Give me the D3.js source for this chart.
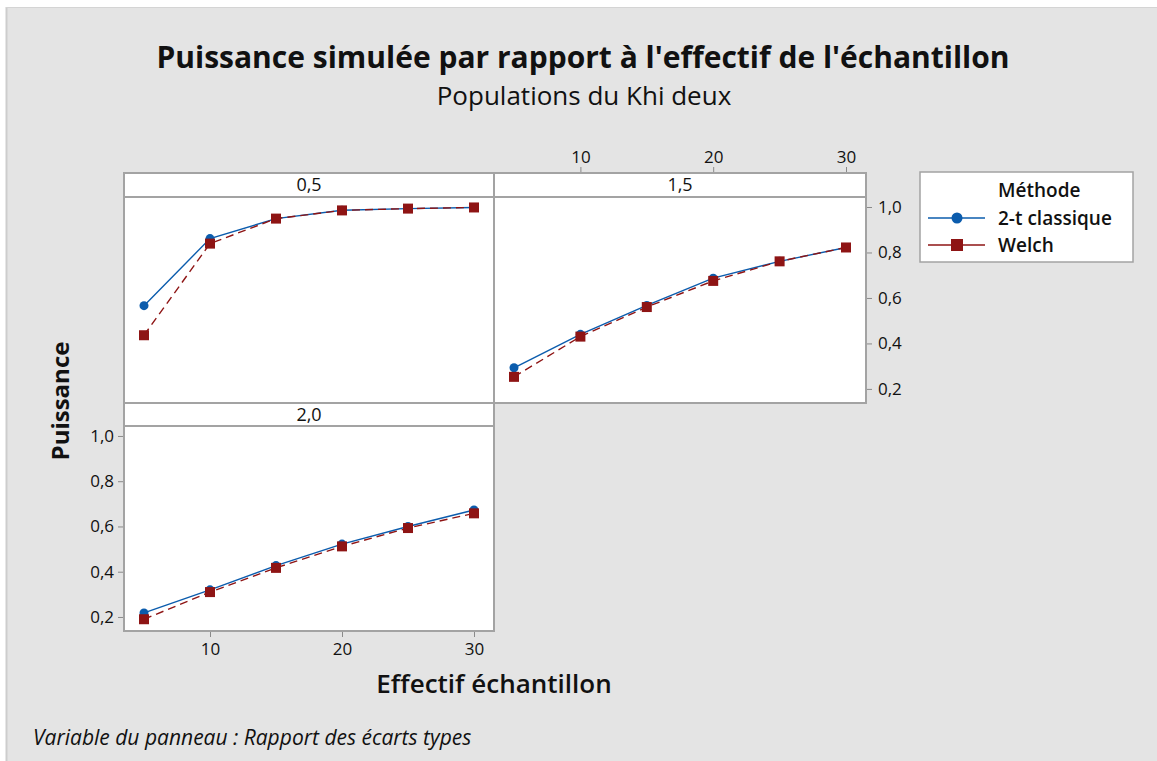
<!DOCTYPE html>
<html>
<head>
<meta charset="utf-8">
<script src="https://cdn.jsdelivr.net/npm/d3@7"></script>
<style>
  body { margin: 0; background: #fff; }
  text { font-family: "Open Sans", "Noto Sans", sans-serif; fill: #111; }
</style>
</head>
<body>
<div id="chart"></div>
<script>
// sample sizes (x values)
var sizes = [5, 10, 15, 20, 25, 30];
// panel variable: ratio of standard deviations
var panels = ["0,5", "1,5", "2,0"];
var methods = ["2-t classique", "Welch"];

// simulated power, one array per panel
var classic05 = [0.566, 0.861, 0.949, 0.986, 0.993, 0.998];
var welch05   = [0.436, 0.839, 0.949, 0.985, 0.993, 0.998];
var classic15 = [0.293, 0.440, 0.567, 0.687, 0.761, 0.822];
var welch15   = [0.253, 0.430, 0.560, 0.675, 0.761, 0.822];
var classic20 = [0.218, 0.320, 0.427, 0.522, 0.600, 0.673];
var welch20   = [0.190, 0.310, 0.417, 0.512, 0.593, 0.658];

var xTicks = [10, 20, 30];
var yTicks = [0.2, 0.4, 0.6, 0.8, 1.0];

var series = [
  { panel: 0, classic: classic05, welch: welch05 },
  { panel: 1, classic: classic15, welch: welch15 },
  { panel: 2, classic: classic20, welch: welch20 }
];

var width = 1157, height = 761;
var blue = "#0b5cad", red = "#8e1414", frame = "#a3a3a3";
var comma = d3.formatLocale({ decimal: ",", thousands: " ", grouping: [3], currency: ["", "€"] });
var fmtY = comma.format(".1f");

// panel geometry: columns and rows
var cols = [{ x0: 124, x1: 494 }, { x0: 494, x1: 866 }];
var rows = [{ s0: 173, p0: 197, p1: 403 }, { s0: 403, p0: 426, p1: 631 }];
var cells = [
  { col: 0, row: 0 },
  { col: 1, row: 0 },
  { col: 0, row: 1 }
];

var svg = d3.select("#chart").append("svg")
  .attr("width", width).attr("height", height);

svg.append("rect").attr("width", width).attr("height", height).attr("fill", "#fff");
svg.append("rect")
  .attr("x", 6).attr("y", 7).attr("width", width - 6).attr("height", height - 7)
  .attr("fill", "#e4e4e4");
svg.append("line").attr("x1", 6.5).attr("x2", 6.5).attr("y1", 7).attr("y2", height)
  .attr("stroke", "#cdcdcd").attr("stroke-width", 2);
svg.append("line").attr("x1", 6).attr("x2", width).attr("y1", 7.5).attr("y2", 7.5)
  .attr("stroke", "#d4d4d4").attr("stroke-width", 1);

// titles
svg.append("text").attr("x", 583).attr("y", 68).attr("text-anchor", "middle")
  .style("font-size", "30px").style("font-weight", 700)
  .text("Puissance simulée par rapport à l'effectif de l'échantillon");
svg.append("text").attr("x", 584).attr("y", 105).attr("text-anchor", "middle")
  .style("font-size", "26px").style("font-weight", 400)
  .text("Populations du Khi deux");

function xScale(c) {
  return d3.scaleLinear().domain([5, 30]).range([cols[c].x0 + 20, cols[c].x1 - 20]);
}
function yScale(r) {
  return d3.scaleLinear().domain([0.138, 1.044]).range([rows[r].p1, rows[r].p0]);
}

cells.forEach(function (cell, i) {
  var c = cols[cell.col], r = rows[cell.row];
  var g = svg.append("g");
  var x = xScale(cell.col), y = yScale(cell.row);

  // strip
  g.append("rect").attr("x", c.x0).attr("y", r.s0)
    .attr("width", c.x1 - c.x0).attr("height", r.p0 - r.s0)
    .attr("fill", "#fff").attr("stroke", frame).attr("stroke-width", 2);
  g.append("text").attr("x", (c.x0 + c.x1) / 2).attr("y", (r.s0 + r.p0) / 2 + 6)
    .attr("text-anchor", "middle").style("font-size", "18px").style("font-weight", 400)
    .text(panels[i]);

  // plot area
  g.append("rect").attr("x", c.x0).attr("y", r.p0)
    .attr("width", c.x1 - c.x0).attr("height", r.p1 - r.p0)
    .attr("fill", "#fff").attr("stroke", frame).attr("stroke-width", 2);

  var s = series[i];
  var pts = function (vals) { return sizes.map(function (d, k) { return [d, vals[k]]; }); };
  var line = d3.line().x(function (d) { return x(d[0]); }).y(function (d) { return y(d[1]); });

  g.append("path").attr("d", line(pts(s.classic)))
    .attr("fill", "none").attr("stroke", blue).attr("stroke-width", 1.4);
  g.selectAll(".dot").data(pts(s.classic)).enter().append("circle")
    .attr("cx", function (d) { return x(d[0]); })
    .attr("cy", function (d) { return y(d[1]); })
    .attr("r", 4.5).attr("fill", blue);

  g.append("path").attr("d", line(pts(s.welch)))
    .attr("fill", "none").attr("stroke", red).attr("stroke-width", 1.4)
    .attr("stroke-dasharray", "8,5");
  g.selectAll(".sq").data(pts(s.welch)).enter().append("rect")
    .attr("x", function (d) { return x(d[0]) - 5; })
    .attr("y", function (d) { return y(d[1]) - 5; })
    .attr("width", 10).attr("height", 10).attr("fill", red);
});

function styleAxis(sel) {
  sel.select(".domain").remove();
  sel.selectAll(".tick line").attr("stroke", "#8a8a8a");
  sel.selectAll(".tick text").style("font-size", "17px").style("font-weight", 400)
    .attr("fill", "#1a1a1a").style("font-family", "'Open Sans', sans-serif");
}

// left y axis on bottom-left panel
svg.append("g").attr("transform", "translate(" + (cols[0].x0 - 1) + ",0)")
  .call(d3.axisLeft(yScale(1)).tickValues(yTicks).tickFormat(fmtY).tickSize(5).tickPadding(4))
  .call(styleAxis);
// right y axis on top-right panel
svg.append("g").attr("transform", "translate(" + (cols[1].x1 + 1) + ",0)")
  .call(d3.axisRight(yScale(0)).tickValues(yTicks).tickFormat(fmtY).tickSize(5).tickPadding(6))
  .call(styleAxis);
// bottom x axis
svg.append("g").attr("transform", "translate(0," + (rows[1].p1 + 1) + ")")
  .call(d3.axisBottom(xScale(0)).tickValues(xTicks).tickSize(5).tickPadding(6))
  .call(styleAxis);
// top x axis
svg.append("g").attr("transform", "translate(0," + (rows[0].s0 - 1) + ")")
  .call(d3.axisTop(xScale(1)).tickValues(xTicks).tickSize(5).tickPadding(4))
  .call(styleAxis);

// axis titles
svg.append("text").attr("transform", "translate(69,401) rotate(-90)")
  .attr("text-anchor", "middle").style("font-size", "24px").style("font-weight", 700)
  .text("Puissance");
svg.append("text").attr("x", 494).attr("y", 693).attr("text-anchor", "middle")
  .style("font-size", "26px").style("font-weight", 600)
  .text("Effectif échantillon");
svg.append("text").attr("x", 33).attr("y", 745)
  .style("font-size", "21px").style("font-style", "italic")
  .text("Variable du panneau : Rapport des écarts types");

// legend
var lg = svg.append("g");
lg.append("rect").attr("x", 920).attr("y", 172).attr("width", 213).attr("height", 90)
  .attr("fill", "#fff").attr("stroke", frame).attr("stroke-width", 1.5);
lg.append("text").attr("x", 998).attr("y", 197)
  .style("font-size", "19px").style("font-weight", 600).text("Méthode");
var lgRows = [{ y: 218, color: blue }, { y: 245, color: red }];
methods.forEach(function (m, k) {
  var ry = lgRows[k].y;
  lg.append("line").attr("x1", 928).attr("x2", 985).attr("y1", ry).attr("y2", ry)
    .attr("stroke", lgRows[k].color).attr("stroke-width", 1.4);
  if (k === 0) {
    lg.append("circle").attr("cx", 957).attr("cy", ry).attr("r", 5.5).attr("fill", blue);
  } else {
    lg.append("rect").attr("x", 951).attr("y", ry - 6).attr("width", 12).attr("height", 12).attr("fill", red);
  }
  lg.append("text").attr("x", 998).attr("y", ry + 7)
    .style("font-size", "19px").style("font-weight", 600).text(m);
});
</script>
</body>
</html>
